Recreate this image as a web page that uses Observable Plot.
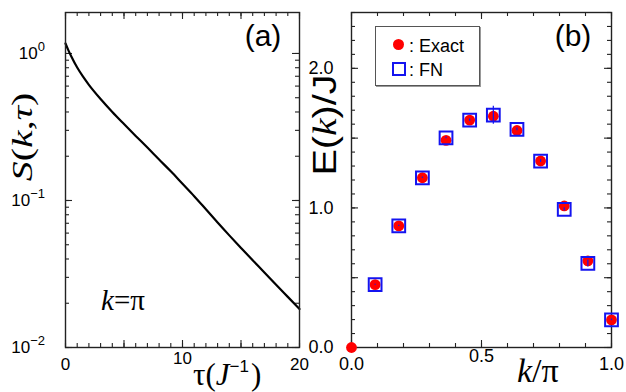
<!DOCTYPE html>
<html><head><meta charset="utf-8">
<script src="https://cdn.jsdelivr.net/npm/d3@7"></script>
<script src="https://cdn.jsdelivr.net/npm/@observablehq/plot@0.6"></script>
<style>
body{margin:0;background:#fff;}
#wrap{position:relative;width:626px;height:392px;overflow:hidden;background:#fff;}
#pa{position:absolute;left:0;top:0;}
#pb{position:absolute;left:310px;top:0;}
#legend{position:absolute;left:375px;top:26px;width:103px;height:58px;border:1.5px solid #555;box-shadow:1px 1px 0 #999;background:#fff;font:18px "Liberation Sans",Arial,sans-serif;color:#000;}
#legend span{position:absolute;line-height:18px;white-space:nowrap;}
</style></head><body>
<div id="wrap">
  <div id="pa"></div>
  <div id="pb"></div>
  <div id="legend">
    <span style="left:16.5px;top:11.5px;width:11px;height:11px;border-radius:50%;background:#ff0000;"></span>
    <span style="left:33px;top:10px;">: Exact</span>
    <span style="left:15.5px;top:35px;width:10px;height:10px;border:2px solid #1414f0;"></span>
    <span style="left:33px;top:34px;">: FN</span>
  </div>
</div>
<script>
// ---- panel (a): S(k=pi, tau) ----
const tau = [0, 0.25, 0.5, 1, 1.5, 2, 3, 4, 5, 6, 7, 8, 9, 10, 11, 12, 13, 14, 15, 16, 17, 18, 19, 20];
const sVals = [1.17, 1.05, 0.953, 0.802, 0.695, 0.612, 0.49, 0.40, 0.331, 0.275, 0.229, 0.190, 0.158, 0.130, 0.107, 0.0871, 0.0708, 0.0579, 0.0476, 0.0392, 0.0324, 0.0267, 0.0221, 0.0183];
const xTicksA = [0, 10, 20];
const xTickLabelsA = ["0", "10", "20"];
const yTicksA = [1, 0.1, 0.01];
const yTickExpA = ["0", "\u22121", "\u22122"];

// ---- panel (b): E(k)/J ----
const kExact = [0, 0.0909, 0.1818, 0.2727, 0.3636, 0.4545, 0.5455, 0.6364, 0.7273, 0.8182, 0.9091, 1.0];
const eExact = [0, 0.45, 0.871, 1.216, 1.484, 1.629, 1.657, 1.555, 1.336, 1.014, 0.621, 0.198];
const kFN = [0.0909, 0.1818, 0.2727, 0.3636, 0.4545, 0.5455, 0.6364, 0.7273, 0.8182, 0.9091, 1.0];
const eFN = [0.45, 0.871, 1.216, 1.502, 1.629, 1.664, 1.562, 1.336, 0.99, 0.602, 0.198];
const errFN = [0.004, 0.004, 0.005, 0.006, 0.008, 0.065, 0.01, 0.01, 0.012, 0.025, 0.006];
const xTicksB = [0, 0.5, 1.0];
const xTickLabelsB = ["0.0", "0.5", "1.0"];
const yTicksB = [0, 1, 2];
const yTickLabelsB = ["0.0", "1.0", "2.0"];

const H = 392, MT = 12, MB = 45;
const innerH = H - MT - MB;
const sans = "'Liberation Sans', Arial, sans-serif";
const serif = "'Liberation Serif', 'Times New Roman', serif";
const frameColor = "#222";
const blue = "#1414f0";

function inwardTicks(xMinor, xMajor, yMinor, yMajor, innerW) {
  const sw = 1.1;
  return [
    Plot.tickX(xMinor, {x: d => d, insetTop: innerH - 4, stroke: frameColor, strokeWidth: sw}),
    Plot.tickX(xMinor, {x: d => d, insetBottom: innerH - 4, stroke: frameColor, strokeWidth: sw}),
    Plot.tickX(xMajor, {x: d => d, insetTop: innerH - 7, stroke: frameColor, strokeWidth: sw}),
    Plot.tickX(xMajor, {x: d => d, insetBottom: innerH - 7, stroke: frameColor, strokeWidth: sw}),
    Plot.tickY(yMinor, {y: d => d, insetRight: innerW - 4, stroke: frameColor, strokeWidth: sw}),
    Plot.tickY(yMinor, {y: d => d, insetLeft: innerW - 4, stroke: frameColor, strokeWidth: sw}),
    Plot.tickY(yMajor, {y: d => d, insetRight: innerW - 7, stroke: frameColor, strokeWidth: sw}),
    Plot.tickY(yMajor, {y: d => d, insetLeft: innerW - 7, stroke: frameColor, strokeWidth: sw})
  ];
}

// ===== Panel (a)
const WA = 310, MLA = 65, MRA = 11;
const innerWA = WA - MLA - MRA;
const curve = tau.map((t, i) => ({t, s: sVals[i]}));
const logMinor = [];
for (const dec of [0.01, 0.1, 1]) for (let m = 1; m <= 9; m++) { const v = dec * m; if (v <= 1.9) logMinor.push(v); }

const plotA = Plot.plot({
  width: WA, height: H,
  marginLeft: MLA, marginRight: MRA, marginTop: MT, marginBottom: MB,
  x: {domain: [0, 20]},
  y: {type: "log", domain: [0.01, 1.9]},
  style: {fontFamily: sans, fontSize: "17px", color: "#000", background: "transparent", overflow: "visible"},
  marks: [
    ...inwardTicks(d3.range(0, 21, 1), [0, 5, 10, 15, 20], logMinor, yTicksA, innerWA),
    Plot.line(curve, {x: "t", y: "s", stroke: "#000", strokeWidth: 2.2, curve: "monotone-x"}),
    Plot.frame({stroke: frameColor, strokeWidth: 1.4}),
    Plot.axisX([xTicksA[0], xTicksA[2]], {tickSize: 0, tickPadding: 10, tickFormat: (d) => xTickLabelsA[xTicksA.indexOf(d)], label: null, fontSize: 17}),
    Plot.axisX([xTicksA[1]], {tickSize: 0, tickPadding: 4, tickFormat: (d) => xTickLabelsA[xTicksA.indexOf(d)], label: null, fontSize: 17}),
    Plot.axisY([], {label: null})
  ]
});
document.getElementById("pa").appendChild(plotA);

const svgA = d3.select(plotA);
const ysA = plotA.scale("y");
yTicksA.forEach((v, i) => {
  const t = svgA.append("text")
    .attr("x", MLA - 20).attr("y", ysA.apply(v) + 6)
    .attr("text-anchor", "end")
    .attr("font-family", sans).attr("font-size", 17).attr("fill", "#000");
  t.append("tspan").text("10");
  t.append("tspan").attr("dy", -8).attr("font-size", 13).text(yTickExpA[i]);
});
// panel label (a)
svgA.append("text").attr("x", 263).attr("y", 46).attr("text-anchor", "middle")
  .attr("font-family", sans).attr("font-size", 30).text("(a)");
// k = pi
const kp = svgA.append("text").attr("x", 101).attr("y", 310).attr("text-anchor", "start")
  .attr("font-family", serif).attr("font-size", 29);
kp.append("tspan").attr("font-style", "italic").text("k");
kp.append("tspan").text("=\u03c0");
// y title S(k,tau)
const st = svgA.append("text").attr("transform", "translate(32,137) rotate(-90) scale(1.33,1)")
  .attr("text-anchor", "middle").attr("font-family", serif).attr("font-size", 30);
st.append("tspan").attr("font-style", "italic").text("S");
st.append("tspan").text("(");
st.append("tspan").attr("font-style", "italic").text("k");
st.append("tspan").text(",");
st.append("tspan").attr("font-style", "italic").text("\u03c4");
st.append("tspan").text(")");
// x title tau(J^-1)
const tt = svgA.append("text").attr("x", 193).attr("y", 385).attr("text-anchor", "start")
  .attr("font-family", serif).attr("font-size", 31);
tt.append("tspan").text("\u03c4(");
tt.append("tspan").attr("font-style", "italic").text("J");
tt.append("tspan").attr("dy", -13).attr("font-size", 17).attr("font-family", sans).text("\u22121");
tt.append("tspan").attr("dy", 13).attr("dx", 2).text(")");

// ===== Panel (b)
const WB = 316, MLB = 41, MRB = 15;
const innerWB = WB - MLB - MRB;
const exact = kExact.map((k, i) => ({k, e: eExact[i]}));
const fn = kFN.map((k, i) => ({k, e: eFN[i], lo: eFN[i] - errFN[i], hi: eFN[i] + errFN[i]}));

const plotB = Plot.plot({
  width: WB, height: H,
  marginLeft: MLB, marginRight: MRB, marginTop: MT, marginBottom: MB,
  x: {domain: [0, 1]},
  y: {domain: [0, 2.4]},
  style: {fontFamily: sans, fontSize: "18px", color: "#000", background: "transparent", overflow: "visible"},
  marks: [
    ...inwardTicks(d3.range(0, 1.0001, 0.1), [0, 0.5, 1], d3.range(0, 2.4001, 0.1), [0, 0.5, 1, 1.5, 2], innerWB),
    Plot.frame({stroke: frameColor, strokeWidth: 1.4}),
    Plot.dot(exact, {x: "k", y: "e", r: 5.4, fill: "#ff0000", stroke: "none"}),
    Plot.dot(fn, {x: "k", y: "e", r: 7.2, symbol: "square", stroke: blue, strokeWidth: 2, fill: "none"}),
    Plot.ruleX(fn, {x: "k", y1: "lo", y2: "hi", stroke: blue, strokeWidth: 1.2}),
    Plot.axisX([xTicksB[0], xTicksB[2]], {tickSize: 0, tickPadding: 10, tickFormat: (d) => xTickLabelsB[xTicksB.indexOf(d)], label: null, fontSize: 18}),
    Plot.axisX([xTicksB[1]], {tickSize: 0, tickPadding: 2, tickFormat: (d) => xTickLabelsB[xTicksB.indexOf(d)], label: null, fontSize: 18}),
    Plot.axisY(yTicksB, {tickSize: 0, tickPadding: 18, tickFormat: (d) => yTickLabelsB[yTicksB.indexOf(d)], label: null, fontSize: 18})
  ]
});
document.getElementById("pb").appendChild(plotB);
const svgB = d3.select(plotB);
svgB.append("text").attr("x", 263).attr("y", 46).attr("text-anchor", "middle")
  .attr("font-family", sans).attr("font-size", 30).text("(b)");
const et = svgB.append("text").attr("transform", "translate(26,125) rotate(-90) scale(1.2,1)")
  .attr("text-anchor", "middle").attr("font-family", sans).attr("font-size", 33);
et.append("tspan").text("E(");
et.append("tspan").attr("font-style", "italic").attr("font-family", serif).text("k");
et.append("tspan").text(")/J");
const kt = svgB.append("text").attr("x", 207).attr("y", 382).attr("text-anchor", "start")
  .attr("font-family", serif).attr("font-size", 34);
kt.append("tspan").attr("font-style", "italic").text("k");
kt.append("tspan").text("/\u03c0");
</script>
</body></html>
